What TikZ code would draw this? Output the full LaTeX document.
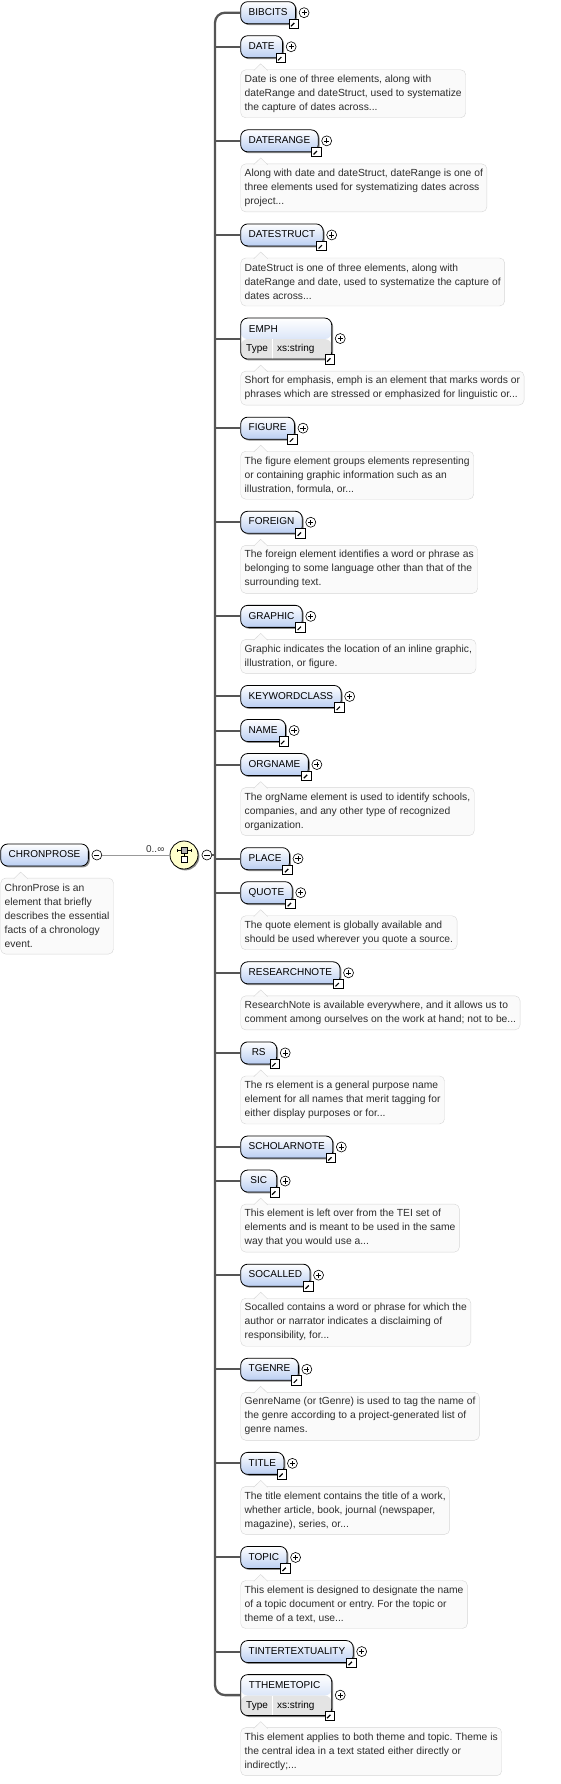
\documentclass[tikz,border=0pt]{standalone}
\usepackage{fontspec}
\setmainfont{Liberation Sans}
\usetikzlibrary{positioning,shadows}
\frenchspacing

\definecolor{elemblue}{RGB}{186,206,242}
\definecolor{typegray}{RGB}{228,228,228}
\definecolor{docline}{RGB}{214,214,214}
\definecolor{docfill}{RGB}{250,250,250}
\definecolor{doctext}{RGB}{45,45,45}
\definecolor{wire}{RGB}{85,85,85}
\definecolor{seqfill}{RGB}{255,255,204}

\tikzset{
	elembox/.style={draw, line width=0.8pt, rounded corners=7pt, inner xsep=8pt, inner ysep=0pt, outer sep=0pt,
		minimum height=22pt, minimum width=36pt, text height=7.3pt, text depth=2pt,
		font=\fontsize{10}{12}\selectfont,
		drop shadow={shadow xshift=1.4pt, shadow yshift=-1.4pt, fill=black!45, opacity=1}},
	elem/.style={elembox, top color=white, bottom color=elemblue},
	typed/.style={elembox, fill=white, minimum width=91pt, minimum height=41pt,
		path picture={
			\shade[top color=white, bottom color=elemblue] (path picture bounding box.north west) rectangle ([yshift=20pt]path picture bounding box.south east);
			\fill[typegray] ([yshift=20pt]path picture bounding box.south west) rectangle (path picture bounding box.south east);
			\draw[white, line width=1.2pt] ([xshift=32pt]path picture bounding box.south west) -- ++(0pt,20pt);
		}},
	intext/.style={inner sep=0pt, anchor=west, font=\fontsize{10}{12}\selectfont},
	docnote/.style={draw=docline, fill=docfill, rounded corners=5pt, align=left, inner xsep=4pt, inner ysep=2pt, outer sep=0pt,
		text=doctext, font=\fontsize{10.3}{14}\selectfont, minimum height={14pt*(#1-1)+20pt}},
	pluscirc/.style={circle, draw, fill=white, line width=0.6pt, minimum size=10pt, inner sep=0pt,
		path picture={
			\draw[line width=0.6pt] ([xshift=-2.6pt]path picture bounding box.center) -- ([xshift=2.6pt]path picture bounding box.center)
				([yshift=-2.6pt]path picture bounding box.center) -- ([yshift=2.6pt]path picture bounding box.center);
		}},
	minuscirc/.style={circle, draw, fill=white, line width=0.6pt, minimum size=10pt, inner sep=0pt,
		path picture={
			\draw[line width=0.6pt] ([xshift=-2.6pt]path picture bounding box.center) -- ([xshift=2.6pt]path picture bounding box.center);
		}},
	refmark/.style={draw, fill=white, line width=0.6pt, minimum size=9.5pt, inner sep=0pt,
		path picture={
			\draw[line width=1.2pt] ([shift={(-2.6pt,-2.6pt)}]path picture bounding box.center) -- ([shift={(1pt,1pt)}]path picture bounding box.center);
			\fill ([shift={(3pt,3pt)}]path picture bounding box.center) -- ([shift={(-1.2pt,3pt)}]path picture bounding box.center) -- ([shift={(3pt,-1.2pt)}]path picture bounding box.center) -- cycle;
		}},
	seqnode/.style={circle, draw, fill=seqfill, line width=0.8pt, minimum size=28pt, inner sep=0pt,
		drop shadow={shadow xshift=1.4pt, shadow yshift=-1.4pt, fill=black!45, opacity=1}},
	branch/.style={draw=wire, line width=2pt},
}

\begin{document}
\begin{tikzpicture}[x=1pt, y=-1pt, node distance=12.05pt and 0pt]
	\useasboundingbox (0,0) rectangle (560,1784);

	\node (chronprose) [elem, anchor=west] at (0.7,855) {CHRONPROSE};
	\node (chronprosedoc) [docnote=5, below right=of chronprose.south west] {ChronProse is an\\element that briefly\\describes the essential\\facts of a chronology\\event.};
	\node (rootminus) [minuscirc] at ([xshift=8.5pt]chronprose.east) {};

	\node (seq) [seqnode] at (184,855) {};
	\draw[line width=0.6pt] ([shift={(-7pt,5pt)}]seq.center) -- ([shift={(7pt,5pt)}]seq.center)
		([shift={(-7pt,3.5pt)}]seq.center) -- ([shift={(-7pt,6.5pt)}]seq.center)
		([shift={(7pt,3.5pt)}]seq.center) -- ([shift={(7pt,6.5pt)}]seq.center)
		([shift={(0pt,2pt)}]seq.center) -- ([shift={(0pt,-1pt)}]seq.center);
	\filldraw[fill=gray!60, line width=0.6pt] ([shift={(-3pt,2pt)}]seq.center) rectangle ([shift={(3pt,8pt)}]seq.center);
	\filldraw[fill=white, line width=0.6pt] ([shift={(-3pt,-1pt)}]seq.center) rectangle ([shift={(3pt,-7.5pt)}]seq.center);
	\node (seqminus) [minuscirc] at ([xshift=8.5pt]seq.east) {};
	\coordinate (spine) at (215,855);

	\draw[draw=black!40, line width=0.8pt] (rootminus.east) -- (seq.west);
	\node (card) [anchor=south east, inner sep=0pt, font=\fontsize{10}{12}\selectfont, text=black!80] at ([xshift=-5pt,yshift=2pt]seq.west) {0..∞};
	\draw[branch] (seqminus.east) -- (spine);

	\node (bibcits) [elem, anchor=west] at (240.7,12.7) {BIBCITS};
	\node (date) [elem, below right=of bibcits.south west] {DATE};
	\node (datedoc) [docnote=3, below right=of date.south west] {Date is one of three elements, along with\\dateRange and dateStruct, used to systematize\\the capture of dates across...};
	\node (daterange) [elem, below right=of datedoc.south west] {DATERANGE};
	\node (daterangedoc) [docnote=3, below right=of daterange.south west] {Along with date and dateStruct, dateRange is one of\\three elements used for systematizing dates across\\project...};
	\node (datestruct) [elem, below right=of daterangedoc.south west] {DATESTRUCT};
	\node (datestructdoc) [docnote=3, below right=of datestruct.south west] {DateStruct is one of three elements, along with\\dateRange and date, used to systematize the capture of\\dates across...};
	\node (emph) [typed, below right=of datestructdoc.south west] {};
	\node [intext] at ([xshift=8pt,yshift=-10.7pt]emph.north west) {EMPH};
	\node [intext] at ([xshift=5.3pt,yshift=10pt]emph.south west) {Type};
	\node [intext] at ([xshift=36.3pt,yshift=10pt]emph.south west) {xs:string};
	\node (emphdoc) [docnote=2, below right=of emph.south west] {Short for emphasis, emph is an element that marks words or\\phrases which are stressed or emphasized for linguistic or...};
	\node (figure) [elem, below right=of emphdoc.south west] {FIGURE};
	\node (figuredoc) [docnote=3, below right=of figure.south west] {The figure element groups elements representing\\or containing graphic information such as an\\illustration, formula, or...};
	\node (foreign) [elem, below right=of figuredoc.south west] {FOREIGN};
	\node (foreigndoc) [docnote=3, below right=of foreign.south west] {The foreign element identifies a word or phrase as\\belonging to some language other than that of the\\surrounding text.};
	\node (graphic) [elem, below right=of foreigndoc.south west] {GRAPHIC};
	\node (graphicdoc) [docnote=2, below right=of graphic.south west] {Graphic indicates the location of an inline graphic,\\illustration, or figure.};
	\node (keywordclass) [elem, below right=of graphicdoc.south west] {KEYWORDCLASS};
	\node (name) [elem, below right=of keywordclass.south west] {NAME};
	\node (orgname) [elem, below right=of name.south west] {ORGNAME};
	\node (orgnamedoc) [docnote=3, below right=of orgname.south west] {The orgName element is used to identify schools,\\companies, and any other type of recognized\\organization.};
	\node (place) [elem, below right=of orgnamedoc.south west] {PLACE};
	\node (quote) [elem, below right=of place.south west] {QUOTE};
	\node (quotedoc) [docnote=2, below right=of quote.south west] {The quote element is globally available and\\should be used wherever you quote a source.};
	\node (researchnote) [elem, below right=of quotedoc.south west] {RESEARCHNOTE};
	\node (researchnotedoc) [docnote=2, below right=of researchnote.south west] {ResearchNote is available everywhere, and it allows us to\\comment among ourselves on the work at hand; not to be...};
	\node (rs) [elem, below right=of researchnotedoc.south west] {RS};
	\node (rsdoc) [docnote=3, below right=of rs.south west] {The rs element is a general purpose name\\element for all names that merit tagging for\\either display purposes or for...};
	\node (scholarnote) [elem, below right=of rsdoc.south west] {SCHOLARNOTE};
	\node (sic) [elem, below right=of scholarnote.south west] {SIC};
	\node (sicdoc) [docnote=3, below right=of sic.south west] {This element is left over from the TEI set of\\elements and is meant to be used in the same\\way that you would use a...};
	\node (socalled) [elem, below right=of sicdoc.south west] {SOCALLED};
	\node (socalleddoc) [docnote=3, below right=of socalled.south west] {Socalled contains a word or phrase for which the\\author or narrator indicates a disclaiming of\\responsibility, for...};
	\node (tgenre) [elem, below right=of socalleddoc.south west] {TGENRE};
	\node (tgenredoc) [docnote=3, below right=of tgenre.south west] {GenreName (or tGenre) is used to tag the name of\\the genre according to a project-generated list of\\genre names.};
	\node (title) [elem, below right=of tgenredoc.south west] {TITLE};
	\node (titledoc) [docnote=3, below right=of title.south west] {The title element contains the title of a work,\\whether article, book, journal (newspaper,\\magazine), series, or...};
	\node (topic) [elem, below right=of titledoc.south west] {TOPIC};
	\node (topicdoc) [docnote=3, below right=of topic.south west] {This element is designed to designate the name\\of a topic document or entry. For the topic or\\theme of a text, use...};
	\node (tintertextuality) [elem, below right=of topicdoc.south west] {TINTERTEXTUALITY};
	\node (tthemetopic) [typed, below right=of tintertextuality.south west] {};
	\node [intext] at ([xshift=8pt,yshift=-10.7pt]tthemetopic.north west) {TTHEMETOPIC};
	\node [intext] at ([xshift=5.3pt,yshift=10pt]tthemetopic.south west) {Type};
	\node [intext] at ([xshift=36.3pt,yshift=10pt]tthemetopic.south west) {xs:string};
	\node (tthemetopicdoc) [docnote=3, below right=of tthemetopic.south west] {This element applies to both theme and topic. Theme is\\the central idea in a text stated either directly or\\indirectly;...};

	\draw[branch, line width=2.3pt, rounded corners=10pt] (bibcits.west) -| (spine) |- (tthemetopic.west);
	\foreach \n in {date,daterange,datestruct,emph,figure,foreign,graphic,keywordclass,name,orgname,place,quote,researchnote,rs,scholarnote,sic,socalled,tgenre,title,topic,tintertextuality}
		\draw[branch] (\n.west) -- (\n.west -| spine);
	\foreach \n in {bibcits,date,daterange,datestruct,emph,figure,foreign,graphic,keywordclass,name,orgname,place,quote,researchnote,rs,scholarnote,sic,socalled,tgenre,title,topic,tintertextuality,tthemetopic}{
		\node [pluscirc] at ([xshift=8.5pt]\n.east) {};
		\node [refmark] at ([xshift=-2pt]\n.south east) {};
	}
	\foreach \d in {chronprosedoc,datedoc,daterangedoc,datestructdoc,emphdoc,figuredoc,foreigndoc,graphicdoc,orgnamedoc,quotedoc,researchnotedoc,rsdoc,sicdoc,socalleddoc,tgenredoc,titledoc,topicdoc,tthemetopicdoc}
		\filldraw[draw=docline, fill=docfill] ([shift={(13pt,-0.8pt)}]\d.north west) -- ([shift={(20pt,6pt)}]\d.north west) -- ([shift={(27pt,-0.8pt)}]\d.north west);
\end{tikzpicture}
\end{document}
